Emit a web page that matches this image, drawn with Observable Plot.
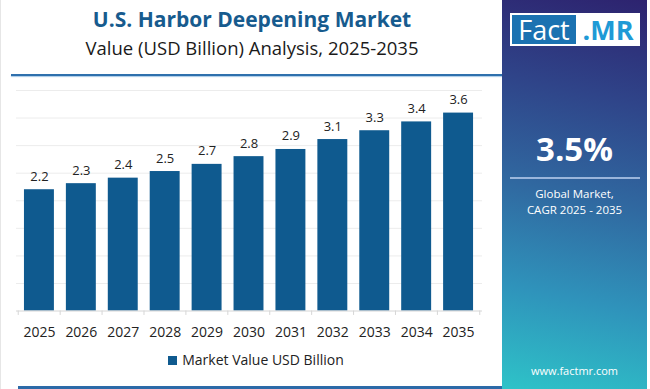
<!DOCTYPE html>
<html>
<head>
<meta charset="utf-8">
<script src="https://cdn.jsdelivr.net/npm/d3@7"></script>
<script src="https://cdn.jsdelivr.net/npm/@observablehq/plot@0.6"></script>
<style>
  html, body { margin: 0; padding: 0; }
  body { width: 650px; height: 389px; position: relative; overflow: hidden; background: #fff; font-family: "Open Sans", sans-serif; }
  #left { position: absolute; left: 0; top: 0; width: 502px; height: 389px; background: #fff; border-left: 1px solid #e6e6e6; box-sizing: border-box; }
  #title { position: absolute; left: 0; width: 502px; top: 5px; text-align: center; font-weight: 700; font-size: 21px; color: #175b8e; }
  #subtitle { position: absolute; left: 0; width: 502px; top: 35px; text-align: center; font-size: 18.5px; color: #1a1a1a; }
  #topline { position: absolute; left: 10px; width: 492px; top: 74px; height: 2px; background: #2f70ad; box-shadow: 0 1px 1px rgba(80,150,210,0.5); }
  #botline { position: absolute; left: 17px; width: 485px; top: 386px; height: 3px; background: #2c6aa8; }
  #chart { position: absolute; left: 0; top: 80px; }
  #legend { position: absolute; left: 0; width: 510px; top: 350px; text-align: center; font-size: 14px; color: #222; }
  #legend .sw { display: inline-block; width: 9px; height: 9px; background: #0f5a8f; margin-right: 5px; vertical-align: 0px; }
  #panel { position: absolute; left: 502px; top: 0; width: 145px; height: 389px;
    background: linear-gradient(12deg, #2ec3c8 0%, #2f93bb 25%, #3068a0 50%, #2f4489 75%, #2d236f 100%); }
  #logo { position: absolute; left: 8px; top: 13px; width: 130px; height: 33px; background: #fff; }
  #logo .fact { position: absolute; left: 2px; top: 2px; width: 64px; height: 29px; background: #1b72b1; color: #fff; font-size: 27px; line-height: 29px; font-weight: 400; text-align: center; }
  #logo .mr { position: absolute; left: 67px; top: 0; width: 62px; height: 33px; color: #1e9ad6; font-size: 27px; line-height: 33px; font-weight: 700; text-align: center; }
  #cagr { position: absolute; left: 0; width: 145px; top: 126px; text-align: center; color: #fff; font-weight: 700; font-size: 33px; }
  #pline { position: absolute; left: 8px; width: 130px; top: 177px; height: 2px; background: rgba(190,210,240,0.75); }
  .gm { position: absolute; left: 0; width: 145px; text-align: center; color: #fff; font-size: 11.5px; line-height: 13px; white-space: nowrap; }
  #web { position: absolute; left: 0; width: 145px; top: 363px; text-align: center; color: #fff; font-size: 11px; }
</style>
</head>
<body>
<div id="left">
  <div id="title">U.S. Harbor Deepening Market</div>
  <div id="subtitle">Value (USD Billion) Analysis, 2025-2035</div>
  <div id="topline"></div>
  <div id="chart"></div>
  <div id="legend"><span class="sw"></span>Market Value USD Billion</div>
  <div id="botline"></div>
</div>
<div id="panel">
  <div id="logo"><div class="fact">Fact</div><div class="mr">.MR</div></div>
  <div id="cagr">3.5%</div>
  <div id="pline"></div>
  <div class="gm" style="top:187px">Global Market,</div>
  <div class="gm" style="top:203px">CAGR 2025 - 2035</div>
  <div id="web">www.factmr.com</div>
</div>
<script>
const years = ["2025","2026","2027","2028","2029","2030","2031","2032","2033","2034","2035"];
const values = [2.2, 2.31, 2.41, 2.53, 2.66, 2.8, 2.93, 3.11, 3.27, 3.43, 3.59];
const yTicks = [0, 0.5, 1, 1.5, 2, 2.5, 3, 3.5, 4];

const data = years.map((y, i) => ({year: y, value: values[i]}));

const W = 502, H = 262, ML = 15, MR = 20, MT = 10, MB = 31;
const step = (W - ML - MR) / years.length;

const plot = Plot.plot({
  width: W, height: H,
  marginLeft: ML, marginRight: MR, marginTop: MT, marginBottom: MB,
  style: {fontFamily: "'Open Sans', sans-serif", background: "transparent", overflow: "visible"},
  x: {domain: years, paddingInner: 0.28, paddingOuter: 0.14, label: null},
  y: {domain: [0, 4], label: null},
  marks: [
    Plot.ruleY(yTicks.filter(d => d > 0), {stroke: "#ececec", strokeWidth: 1}),
    Plot.barY(data, {x: "year", y: "value", fill: "#0f5a8f"}),
    Plot.ruleY([0], {stroke: "#d6d6d6", strokeWidth: 1}),
    Plot.ruleX(years, {x: d => d, dx: -step / 2, y1: 0, y2: -0.08, stroke: "#d6d6d6"}),
    Plot.ruleX([years[years.length - 1]], {x: d => d, dx: step / 2, y1: 0, y2: -0.08, stroke: "#d6d6d6"}),
    Plot.text(data, {x: "year", y: "value", text: d => d.value.toFixed(1), dy: -9, lineAnchor: "bottom", fontSize: 13, fill: "#222"}),
    Plot.axisX({tickSize: 0, tickPadding: 16, fontSize: 14, fill: "#222"}),
    Plot.axisY({ticks: [], tickSize: 0, label: null})
  ]
});
document.getElementById("chart").appendChild(plot);
</script>
</body>
</html>
